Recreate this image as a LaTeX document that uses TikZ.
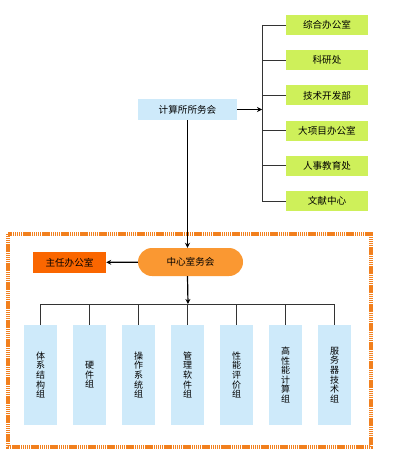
\documentclass[tikz,border=0pt]{standalone}
\usepackage{fontspec}
\newfontfamily\cjk{Noto Sans CJK SC}
\usepackage{xcolor}
\definecolor{limegreen}{RGB}{206,240,90}
\definecolor{paleblue}{RGB}{206,234,250}
\definecolor{darkorange}{RGB}{250,102,0}
\definecolor{lightorange}{RGB}{250,152,50}
\definecolor{framecolor}{RGB}{242,128,30}
\newcommand\stackfont{\cjk\fontsize{9}{9.6}\selectfont\lineskiplimit=-9pt\relax}
\usetikzlibrary{arrows.meta}
\tikzset{>={Stealth[length=5pt,width=5pt]}}

\begin{document}
\begin{tikzpicture}[x=1pt,y=-1pt,font=\cjk\fontsize{9.6}{10}\selectfont,
  bluebox/.style={fill=paleblue,minimum width=99pt,minimum height=21pt,inner sep=0pt},
  greenbox/.style={fill=limegreen,minimum width=82pt,minimum height=20pt,inner sep=0pt},
  groupbox/.style={fill=paleblue,minimum width=33pt,minimum height=100pt,inner sep=0pt,
    align=center,font=\stackfont},
  link/.style={line width=0.8pt,draw=black!80},
  feed/.style={->,line width=1.2pt}]
\useasboundingbox (0,0) rectangle (400,468);

\draw[framecolor,line width=3.2pt,dash pattern=on 1.3pt off 0.6pt] (8,234) rectangle (371,447);

\node[bluebox] (council) at (187.5,109.5) {计算所所务会};
\coordinate (bus) at (262,109.5);
\draw[feed] (council) -- (bus);

\foreach \name [count=\i] in {综合办公室,科研处,技术开发部,大项目办公室,人事教育处,文献中心}{
  \node[greenbox] (office\i) at (327,{25+35.2*(\i-1)}) {\name};
  \draw[link] (office\i.west) -- (office\i.west -| bus);
}
\draw[link] (office1.west -| bus) -- (office6.west -| bus);

\node[fill=lightorange,rounded corners=14pt,minimum width=105pt,minimum height=28pt,inner sep=0pt] (centre) at (190.5,262) {中心室务会};
\node[fill=darkorange,minimum width=73pt,minimum height=21pt,inner sep=0pt] (director) at (69.5,262.5) {主任办公室};
\draw[feed] (council) -- (council |- centre.north);
\draw[feed] (centre) -- (director);

\coordinate (split) at (188,304);
\draw[feed] (council |- centre.south) -- (split);

\foreach \name [count=\i] in {{体\\系\\结\\构\\组},{硬\\件\\组},{操\\作\\系\\统\\组},{管\\理\\软\\件\\组},{性\\能\\评\\价\\组},{高\\性\\能\\计\\算\\组},{服\\务\\器\\技\\术\\组}}{
  \node[groupbox] (group\i) at ({40.5+49*(\i-1)},375) {\name};
  \draw[link] (group\i.north) -- (group\i.north |- split);
}
\draw[link] (group1.north |- split) -- (group7.north |- split);
\end{tikzpicture}
\end{document}
